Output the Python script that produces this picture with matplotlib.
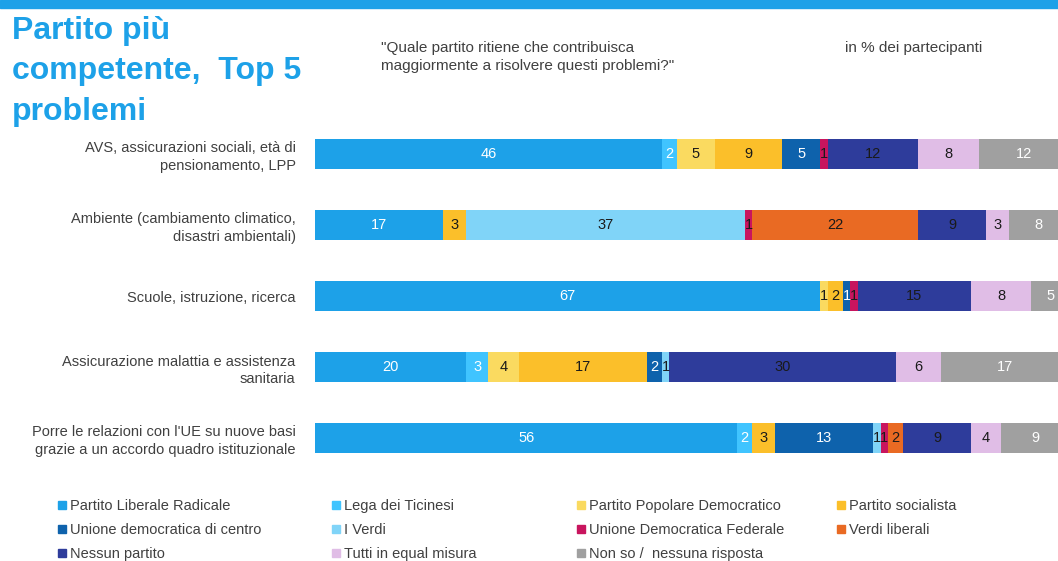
import matplotlib
matplotlib.use("Agg")
import matplotlib.pyplot as plt
from matplotlib.patches import Rectangle
import numpy as np

plt.rcParams['font.family'] = ['Liberation Sans', 'DejaVu Sans']

categories = [
    "AVS, assicurazioni sociali, età di\npensionamento, LPP",
    "Ambiente (cambiamento climatico,\ndisastri ambientali)",
    "Scuole, istruzione, ricerca",
    "Assicurazione malattia e assistenza\nsanitaria",
    "Porre le relazioni con l'UE su nuove basi\ngrazie a un accordo quadro istituzionale",
]
series_names = [
    "Partito Liberale Radicale", "Lega dei Ticinesi", "Partito Popolare Democratico",
    "Partito socialista", "Unione democratica di centro", "I Verdi",
    "Unione Democratica Federale", "Verdi liberali", "Nessun partito",
    "Tutti in equal misura", "Non so /  nessuna risposta",
]
plr = [46, 17, 67, 20, 56]
lega = [2, 0, 0, 3, 2]
ppd = [5, 0, 1, 4, 0]
ps = [9, 3, 2, 17, 3]
udc = [5, 0, 1, 2, 13]
verdi = [0, 37, 0, 1, 1]
udf = [1, 1, 1, 0, 1]
vl = [0, 22, 0, 0, 2]
nessun = [12, 9, 15, 30, 9]
tutti = [8, 3, 8, 6, 4]
nonso = [12, 8, 5, 17, 9]
series = [plr, lega, ppd, ps, udc, verdi, udf, vl, nessun, tutti, nonso]

colors = ["#1DA1E8", "#40C4FF", "#FADA60", "#FBBF2A", "#0E62AC", "#80D4F8",
          "#C8155E", "#E96A23", "#2E3C9B", "#E0BDE6", "#A0A0A0"]
label_colors = ["white", "white", "#1a1a1a", "#1a1a1a", "white", "#1a1a1a",
                "#1a1a1a", "#1a1a1a", "#1a1a1a", "#1a1a1a", "white"]

W, H = 1058, 561
fig = plt.figure(figsize=(W / 100, H / 100), dpi=100)

# top band
fig.patches.append(Rectangle((0, 1 - 8 / H), 1, 8 / H, transform=fig.transFigure,
                             color="#1DA1E8", zorder=0))

ax_left, ax_right = 315, 1069
ax_top, ax_bot = 118.5, 473.5
ax = fig.add_axes([ax_left / W, (H - ax_bot) / H, (ax_right - ax_left) / W, (ax_bot - ax_top) / H])

y = np.arange(len(categories))
left = np.zeros(len(categories))
for vals, c, lc in zip(series, colors, label_colors):
    vals = np.array(vals, dtype=float)
    bars = ax.barh(y, vals, left=left, height=0.42, color=c, edgecolor='none')
    for b, v in zip(bars, vals):
        if v > 0:
            ax.text(b.get_x() + b.get_width() / 2, b.get_y() + b.get_height() / 2,
                    f"{int(v)}", ha='center', va='center', fontsize=10.5, color=lc)
    left += vals

ax.set_xlim(0, 100)
ax.set_ylim(len(categories) - 0.5, -0.5)
ax.set_yticks(y)
ax.set_yticklabels(categories, fontsize=10.5, color="#404040")
for t in ax.get_yticklabels():
    t.set_linespacing(1.35)
ax.tick_params(axis='y', length=0, pad=14)
ax.set_xticks([])
for s in ax.spines.values():
    s.set_visible(False)

# title
fig.text(12 / W, 1 - 16 / H, "Partito più\ncompetente,  Top 5\nproblemi", ha='left', va='top',
         fontsize=23, fontweight='bold', color="#1DA1E8", linespacing=1.45)
fig.text(381 / W, 1 - 41 / H, "\"Quale partito ritiene che contribuisca\nmaggiormente a risolvere questi problemi?\"",
         ha='left', va='top', fontsize=11, color="#404040", linespacing=1.4)
fig.text(845 / W, 1 - 41 / H, "in % dei partecipanti", ha='left', va='top', fontsize=11, color="#404040")

# legend
col_x = [58, 332, 577, 837]
row_y = [505, 529, 553]
for i, (name, c) in enumerate(zip(series_names, colors)):
    r, k = divmod(i, 4)
    x0, y0 = col_x[k], row_y[r]
    fig.patches.append(Rectangle((x0 / W, 1 - (y0 + 4) / H), 8 / W, 8 / H,
                                 transform=fig.transFigure, color=c))
    fig.text((x0 + 12) / W, 1 - (y0 + 1) / H, name, ha='left', va='center', fontsize=10.5, color="#404040")

fig.savefig("out.png", dpi=100)
